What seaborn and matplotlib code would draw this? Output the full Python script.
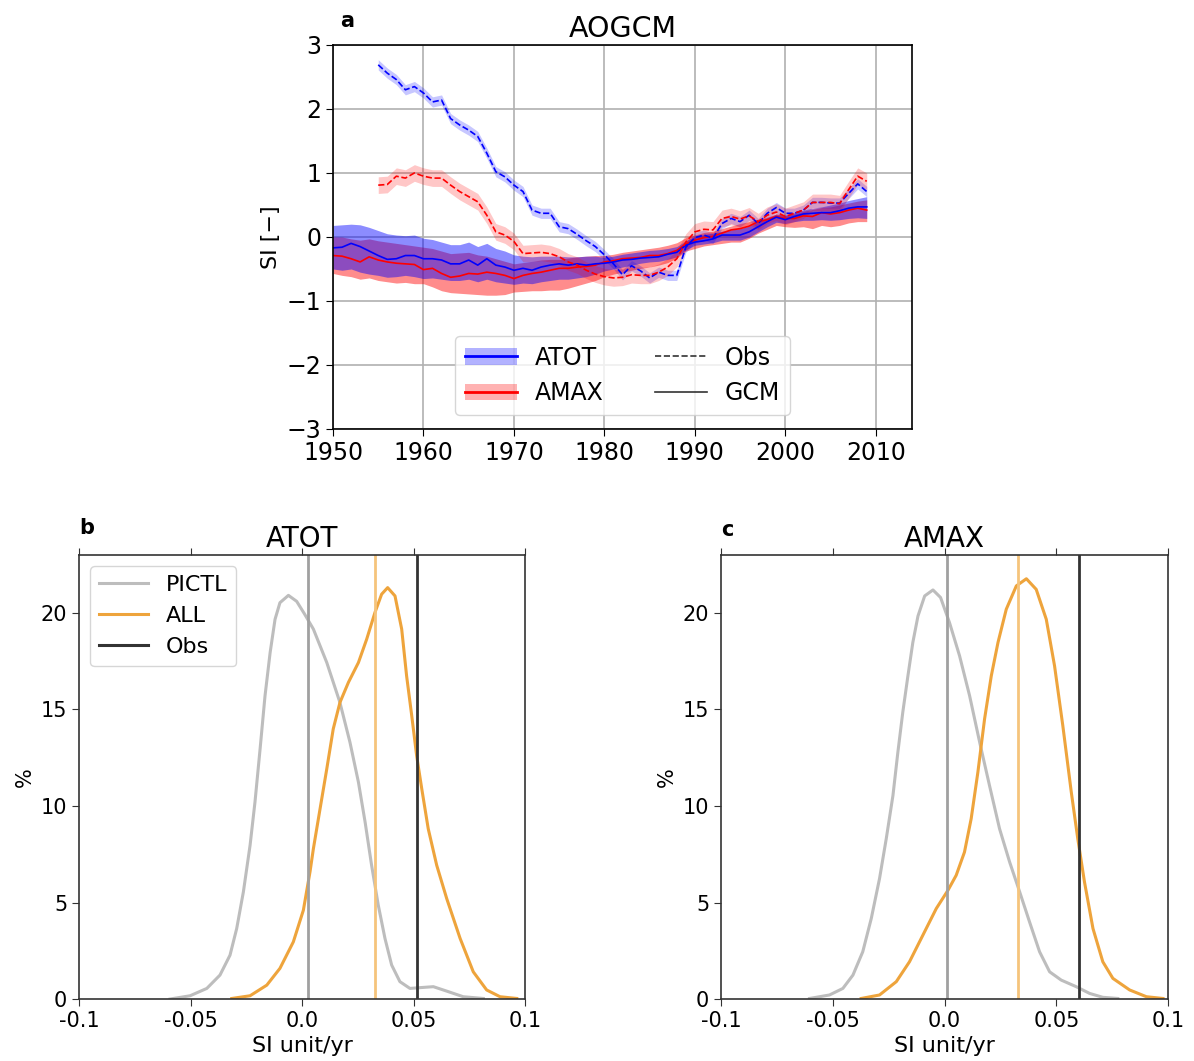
import numpy as np
import pandas as pd
import matplotlib
matplotlib.use("Agg")
import matplotlib.pyplot as plt
import seaborn as sns
from matplotlib.lines import Line2D
from matplotlib.patches import Patch

# ---- panel a : standardised index, obs 1955-2009, GCM 1950-2009
obs_years = list(range(1955, 2010))
gcm_years = list(range(1950, 2010))

atot_obs = [2.69, 2.56, 2.46, 2.30, 2.35, 2.25, 2.11, 2.14, 1.85, 1.75,
            1.67, 1.57, 1.31, 1.02, 0.94, 0.81, 0.71, 0.42, 0.37, 0.37,
            0.16, 0.13, 0.04, -0.06, -0.15, -0.28, -0.42, -0.59, -0.45, -0.53,
            -0.64, -0.55, -0.60, -0.60, -0.16, -0.01, 0.03, -0.02, 0.21, 0.29,
            0.24, 0.34, 0.21, 0.37, 0.46, 0.37, 0.37, 0.42, 0.54, 0.54,
            0.53, 0.53, 0.68, 0.83, 0.71]
amax_obs = [0.81, 0.82, 0.95, 0.92, 1.00, 0.95, 0.92, 0.92, 0.81, 0.71,
            0.63, 0.55, 0.34, 0.08, 0.03, -0.07, -0.26, -0.25, -0.24, -0.26,
            -0.31, -0.39, -0.44, -0.52, -0.58, -0.62, -0.64, -0.63, -0.59, -0.60,
            -0.60, -0.55, -0.47, -0.34, -0.08, 0.08, 0.12, 0.11, 0.29, 0.32,
            0.28, 0.33, 0.24, 0.34, 0.39, 0.32, 0.37, 0.42, 0.54, 0.54,
            0.54, 0.52, 0.74, 0.95, 0.87]
atot_obs_spread = 0.08
amax_obs_spread = 0.13

atot_gcm = [-0.17, -0.16, -0.10, -0.15, -0.22, -0.29, -0.35, -0.34, -0.29, -0.29,
            -0.34, -0.34, -0.36, -0.42, -0.42, -0.36, -0.44, -0.34, -0.44, -0.47,
            -0.52, -0.49, -0.52, -0.47, -0.44, -0.42, -0.44, -0.42, -0.44, -0.42,
            -0.41, -0.39, -0.36, -0.35, -0.33, -0.32, -0.31, -0.27, -0.24, -0.13,
            -0.08, -0.06, -0.03, 0.03, 0.03, 0.03, 0.08, 0.16, 0.24, 0.31,
            0.27, 0.32, 0.36, 0.37, 0.38, 0.38, 0.41, 0.45, 0.47, 0.47]
atot_gcm_hi = [0.18, 0.19, 0.20, 0.19, 0.15, 0.10, 0.05, 0.03, 0.02, 0.03,
               -0.02, -0.04, -0.08, -0.12, -0.12, -0.08, -0.15, -0.10, -0.18, -0.22,
               -0.28, -0.30, -0.31, -0.30, -0.30, -0.30, -0.31, -0.31, -0.30, -0.30,
               -0.32, -0.30, -0.27, -0.25, -0.23, -0.21, -0.20, -0.18, -0.15, -0.06,
               0.01, 0.04, 0.06, 0.09, 0.11, 0.13, 0.17, 0.24, 0.30, 0.36,
               0.34, 0.38, 0.42, 0.45, 0.47, 0.50, 0.53, 0.57, 0.60, 0.63]
atot_gcm_lo = [-0.50, -0.52, -0.50, -0.55, -0.58, -0.60, -0.63, -0.62, -0.60, -0.62,
               -0.65, -0.64, -0.66, -0.68, -0.68, -0.66, -0.70, -0.66, -0.70, -0.72,
               -0.74, -0.72, -0.73, -0.70, -0.68, -0.66, -0.66, -0.64, -0.62, -0.58,
               -0.53, -0.50, -0.47, -0.44, -0.41, -0.39, -0.38, -0.35, -0.31, -0.20,
               -0.13, -0.11, -0.09, -0.05, -0.05, -0.05, 0.00, 0.08, 0.16, 0.23,
               0.21, 0.24, 0.26, 0.26, 0.27, 0.26, 0.27, 0.29, 0.30, 0.29]

amax_gcm = [-0.29, -0.30, -0.34, -0.39, -0.31, -0.36, -0.39, -0.41, -0.42, -0.43,
            -0.51, -0.49, -0.57, -0.63, -0.61, -0.57, -0.58, -0.55, -0.57, -0.60,
            -0.65, -0.60, -0.57, -0.55, -0.52, -0.49, -0.49, -0.47, -0.46, -0.44,
            -0.39, -0.37, -0.34, -0.33, -0.32, -0.29, -0.29, -0.26, -0.21, -0.11,
            -0.05, -0.01, 0.01, 0.06, 0.11, 0.13, 0.17, 0.24, 0.27, 0.32,
            0.29, 0.29, 0.33, 0.32, 0.38, 0.36, 0.38, 0.42, 0.45, 0.42]
amax_gcm_hi = [0.00, 0.00, -0.03, -0.05, -0.03, -0.06, -0.08, -0.10, -0.12, -0.14,
               -0.16, -0.18, -0.22, -0.26, -0.25, -0.24, -0.28, -0.30, -0.34, -0.38,
               -0.42, -0.40, -0.38, -0.36, -0.35, -0.35, -0.33, -0.31, -0.30, -0.29,
               -0.29, -0.27, -0.24, -0.22, -0.20, -0.18, -0.16, -0.13, -0.09, -0.01,
               0.03, 0.07, 0.09, 0.13, 0.17, 0.21, 0.24, 0.28, 0.31, 0.36,
               0.34, 0.36, 0.40, 0.43, 0.46, 0.47, 0.50, 0.53, 0.56, 0.58]
amax_gcm_lo = [-0.57, -0.60, -0.62, -0.66, -0.64, -0.68, -0.70, -0.72, -0.71, -0.73,
               -0.73, -0.78, -0.84, -0.87, -0.88, -0.89, -0.90, -0.91, -0.91, -0.90,
               -0.86, -0.85, -0.84, -0.84, -0.83, -0.83, -0.80, -0.76, -0.72, -0.68,
               -0.62, -0.58, -0.55, -0.52, -0.49, -0.47, -0.44, -0.40, -0.33, -0.22,
               -0.18, -0.14, -0.12, -0.10, -0.08, -0.08, -0.02, 0.06, 0.12, 0.18,
               0.16, 0.15, 0.16, 0.13, 0.18, 0.16, 0.18, 0.22, 0.24, 0.24]

# ---- panels b, c : trend distributions (%)
b_pictl_x = [-0.0592, -0.0502, -0.0427, -0.0368, -0.0323, -0.0293, -0.0263, -0.0233, -0.0211, -0.0188,
             -0.0166, -0.0143, -0.0121, -0.0099, -0.0061, -0.0024, 0.0011, 0.0051, 0.0111, 0.0170,
             0.0215, 0.0253, 0.0283, 0.0312, 0.0342, 0.0372, 0.0402, 0.0439, 0.0484, 0.0529,
             0.0589, 0.0649, 0.0723, 0.0813]
b_pictl_y = [0.0, 0.17, 0.55, 1.24, 2.27, 3.65, 5.55, 7.96, 10.2, 12.96,
             15.7, 17.95, 19.67, 20.53, 20.91, 20.6, 19.95, 19.16, 17.43, 15.36,
             13.3, 11.23, 9.16, 6.93, 4.86, 3.14, 1.76, 0.9, 0.55, 0.59,
             0.64, 0.41, 0.12, 0.03]
b_all_x = [-0.0315, -0.0233, -0.0158, -0.0099, -0.0039, 0.0006, 0.0036, 0.0051, 0.0081, 0.0111,
           0.0140, 0.0170, 0.0208, 0.0253, 0.0290, 0.0327, 0.0357, 0.0384, 0.0417, 0.0447,
           0.0469, 0.0492, 0.0514, 0.0537, 0.0566, 0.0604, 0.0649, 0.0709, 0.0768, 0.0828,
           0.0888, 0.0963]
b_all_y = [0.03, 0.17, 0.72, 1.59, 2.96, 4.6, 6.6, 7.79, 9.86, 11.92,
           13.99, 15.36, 16.4, 17.43, 18.64, 20.02, 20.97, 21.31, 20.88, 19.16,
           16.74, 14.68, 12.61, 10.89, 8.82, 6.93, 5.2, 3.14, 1.41, 0.47,
           0.12, 0.03]
c_pictl_x = [-0.0604, -0.0515, -0.0455, -0.0410, -0.0366, -0.0328, -0.0291, -0.0261, -0.0231, -0.0209,
             -0.0187, -0.0164, -0.0142, -0.0119, -0.0089, -0.0052, -0.0018, 0.0022, 0.0067, 0.0112,
             0.0157, 0.0201, 0.0246, 0.0291, 0.0336, 0.0380, 0.0425, 0.0470, 0.0522, 0.0589,
             0.0649, 0.0708, 0.0775]
c_pictl_y = [0.03, 0.21, 0.55, 1.24, 2.45, 4.17, 6.24, 8.3, 10.54, 12.78,
             14.85, 16.74, 18.47, 19.84, 20.88, 21.19, 20.8, 19.5, 17.78, 15.71,
             13.3, 11.06, 8.82, 7.1, 5.55, 4.0, 2.45, 1.41, 0.98, 0.64,
             0.29, 0.09, 0.03]
c_all_x = [-0.0373, -0.0291, -0.0216, -0.0157, -0.0097, -0.0037, 0.0015, 0.0052, 0.0089, 0.0119,
           0.0149, 0.0179, 0.0209, 0.0239, 0.0276, 0.0321, 0.0366, 0.0410, 0.0455, 0.0492,
           0.0529, 0.0567, 0.0596, 0.0626, 0.0664, 0.0708, 0.0753, 0.0828, 0.0903, 0.0977]
c_all_y = [0.03, 0.21, 0.9, 1.93, 3.31, 4.69, 5.63, 6.41, 7.61, 9.34,
           11.75, 14.51, 16.74, 18.47, 20.19, 21.4, 21.77, 21.22, 19.67, 17.26,
           14.16, 10.71, 8.3, 6.06, 3.65, 1.93, 1.07, 0.47, 0.12, 0.03]

# vertical markers: PICTL mean, ALL mean, observed trend
b_lines = [0.0027, 0.0327, 0.0516]
c_lines = [0.001, 0.0327, 0.060]

x_ticks = [-0.1, -0.05, 0.0, 0.05, 0.1]
x_tick_labels = ["-0.1", "-0.05", "0.0", "0.05", "0.1"]

gray = "#bdbdbd"
orange = "#eea43c"
dark = "#333333"

fig = plt.figure(figsize=(11.94, 10.61), dpi=100)

# ---------------- panel a
ax = fig.add_axes([0.2789, 0.5957, 0.4849, 0.3619])
ax.grid(True, color="#b0b0b0", lw=1.2)
ax.set_axisbelow(True)

# red band first so the overlap comes out purple like the original
ax.fill_between(gcm_years, amax_gcm_lo, amax_gcm_hi, color="red", alpha=0.45, lw=0)
ax.fill_between(gcm_years, atot_gcm_lo, atot_gcm_hi, color="blue", alpha=0.45, lw=0)
ax.fill_between(obs_years, np.array(atot_obs) - atot_obs_spread, np.array(atot_obs) + atot_obs_spread,
                color="blue", alpha=0.22, lw=0)
ax.fill_between(obs_years, np.array(amax_obs) - amax_obs_spread, np.array(amax_obs) + amax_obs_spread,
                color="red", alpha=0.22, lw=0)

sns.lineplot(x=gcm_years, y=amax_gcm, color="red", lw=1.2, ax=ax)
sns.lineplot(x=gcm_years, y=atot_gcm, color="blue", lw=1.2, ax=ax)
sns.lineplot(x=obs_years, y=atot_obs, color="blue", lw=1.2, ax=ax, linestyle="--")
sns.lineplot(x=obs_years, y=amax_obs, color="red", lw=1.2, ax=ax, linestyle="--")

ax.set_xlim(1950, 2014)
ax.set_ylim(-3, 3)
ax.set_xticks([1950, 1960, 1970, 1980, 1990, 2000, 2010])
ax.set_yticks([-3, -2, -1, 0, 1, 2, 3])
ax.tick_params(labelsize=17, length=5)
ax.set_ylabel("SI [\u2212]", fontsize=16)
ax.set_title("AOGCM", fontsize=20.5)
for s in ax.spines.values():
    s.set_linewidth(1.2)

h_atot = (Patch(facecolor="blue", alpha=0.3, lw=0), Line2D([], [], color="blue", lw=2))
h_amax = (Patch(facecolor="red", alpha=0.3, lw=0), Line2D([], [], color="red", lw=2))
h_obs = Line2D([], [], color=dark, lw=1.2, ls="--")
h_gcm = Line2D([], [], color=dark, lw=1.2)
ax.legend([h_atot, h_amax, h_obs, h_gcm], ["ATOT", "AMAX", "Obs", "GCM"], ncol=2,
          loc="lower center", fontsize=17, handlelength=2.2, columnspacing=2.2,
          borderaxespad=0.6, handletextpad=0.75)
fig.text(0.285, 0.975, "a", fontsize=15, fontweight="bold")


def dist_panel(rect, title, px, py, ax_, ay, vlines, letter, lpos, show_legend):
    a = fig.add_axes(rect)
    sns.lineplot(x=px, y=py, color=gray, lw=2.2, ax=a, label="PICTL", sort=False,
                 solid_joinstyle="round")
    sns.lineplot(x=ax_, y=ay, color=orange, lw=2.2, ax=a, label="ALL", sort=False,
                 solid_joinstyle="round")
    a.axvline(vlines[0], color="#a0a0a0", lw=2)
    a.axvline(vlines[1], color="#f5c47c", lw=2)
    a.axvline(vlines[2], color=dark, lw=2)
    a.set_xlim(-0.1, 0.1)
    a.set_ylim(0, 23)
    a.set_xticks(x_ticks)
    a.set_xticklabels(x_tick_labels)
    a.set_yticks([0, 5, 10, 15, 20])
    a.tick_params(labelsize=15, length=5, color=dark)
    a.tick_params(axis="x", top=True)
    a.set_xlabel("SI unit/yr", fontsize=16)
    a.set_ylabel("%", fontsize=15)
    a.set_title(title, fontsize=20)
    for s in a.spines.values():
        s.set_color(dark)
        s.set_linewidth(1.2)
    if show_legend:
        hs = [Line2D([], [], color=gray, lw=2.2), Line2D([], [], color=orange, lw=2.2),
              Line2D([], [], color=dark, lw=2.2)]
        a.legend(hs, ["PICTL", "ALL", "Obs"], loc="upper left", fontsize=16,
                 handlelength=2.2, handletextpad=0.8)
    else:
        a.get_legend().remove()
    fig.text(lpos[0], lpos[1], letter, fontsize=15, fontweight="bold")
    return a


dist_panel([0.0662, 0.0584, 0.3735, 0.4185], "ATOT", b_pictl_x, b_pictl_y, b_all_x, b_all_y,
           b_lines, "b", (0.066, 0.497), True)
dist_panel([0.6039, 0.0584, 0.3744, 0.4185], "AMAX", c_pictl_x, c_pictl_y, c_all_x, c_all_y,
           c_lines, "c", (0.604, 0.495), False)

fig.savefig("out.png", dpi=100)
